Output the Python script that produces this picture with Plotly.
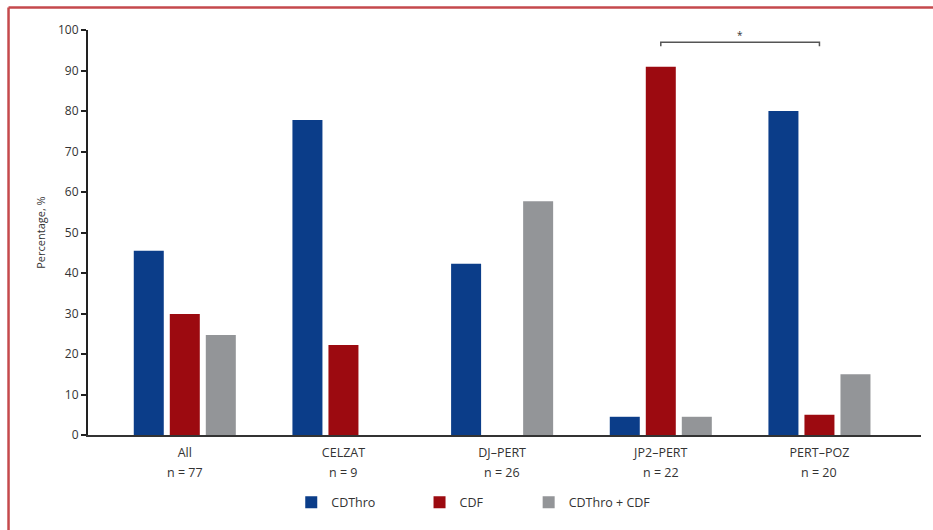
import plotly.graph_objects as go

categories = ["All", "CELZAT", "DJ–PERT", "JP2–PERT", "PERT–POZ"]
n_labels = ["n = 77", "n = 9", "n = 26", "n = 22", "n = 20"]
series_names = ["CDThro", "CDF", "CDThro + CDF"]
cdthro = [45.5, 77.8, 42.3, 4.5, 80.0]
cdf = [29.9, 22.2, 0, 90.9, 5.0]
both = [24.7, 0, 57.7, 4.5, 15.0]
colors = ["#0b3d89", "#9c0a10", "#939598"]
y_ticks = [0, 10, 20, 30, 40, 50, 60, 70, 80, 90, 100]
sig_pairs = [("JP2–PERT", "PERT–POZ", "*")]
sig_level = 97

FONT = "Open Sans"
TXT = "#333333"

fig = go.Figure()
legend_names = ["legend", "legend2", "legend3"]
legend_x = [0.244, 0.398, 0.529]
for name, vals, col, lg in zip(series_names, [cdthro, cdf, both], colors, legend_names):
    fig.add_trace(go.Bar(
        x=categories, y=vals, name=name, legend=lg, showlegend=True,
        marker=dict(color=col, line=dict(width=0)),
    ))

# significance bracket
for a, b, s in sig_pairs:
    ia, ib = categories.index(a), categories.index(b)
    fig.add_shape(type="path", xref="x", yref="y",
                  path=f"M {ia},{sig_level-1} L {ia},{sig_level} L {ib},{sig_level} L {ib},{sig_level-1}",
                  line=dict(color="#555555", width=1.5))
    fig.add_annotation(x=(ia + ib) / 2, y=sig_level, text=s, showarrow=False,
                       yshift=7, font=dict(family=FONT, size=10, color=TXT))

# n labels
for c, n in zip(categories, n_labels):
    fig.add_annotation(x=c, y=0, yref="paper", yanchor="middle", text=n, showarrow=False,
                       yshift=-37, font=dict(family=FONT, size=12.5, color=TXT))

# border (top and left)
fig.add_shape(type="line", xref="paper", yref="paper", x0=-0.0954, x1=1.2,
              y0=1.0553, y1=1.0553, line=dict(color="#c5494c", width=2.5))
fig.add_shape(type="line", xref="paper", yref="paper", x0=-0.0954, x1=-0.0954,
              y0=1.0553, y1=-0.3, line=dict(color="#c5494c", width=2.5))

leg_common = dict(orientation="h", yanchor="middle", y=-0.167, xanchor="left",
                  font=dict(family=FONT, size=12.5, color=TXT), bgcolor="rgba(0,0,0,0)")
layout_legends = {}
for lg, lx in zip(legend_names, legend_x):
    layout_legends[lg] = dict(leg_common, x=lx)

fig.update_layout(
    width=933, height=530,
    margin=dict(l=88, r=12, t=30, b=93),
    paper_bgcolor="white", plot_bgcolor="white",
    barmode="group", bargap=0.319, bargroupgap=0.167,
    showlegend=True,
    font=dict(family=FONT, size=12, color=TXT),
    **layout_legends,
)
fig.update_xaxes(
    type="category", range=[-0.61, 4.64],
    tickvals=categories, ticktext=categories,
    showline=True, linecolor="#333333", linewidth=2,
    ticks="", showgrid=False, zeroline=False, ticklabelstandoff=5,
    tickfont=dict(family=FONT, size=12.5, color=TXT),
)
fig.update_yaxes(
    range=[0, 100], tickvals=y_ticks,
    showline=True, linecolor="#222222", linewidth=2,
    ticks="outside", ticklen=5, tickwidth=1.5, tickcolor="#222222",
    showgrid=False, zeroline=False,
    tickfont=dict(family=FONT, size=12, color=TXT),
    title=dict(text="Percentage, %", font=dict(family=FONT, size=11, color=TXT), standoff=10),
)

fig.write_html("out.html")
